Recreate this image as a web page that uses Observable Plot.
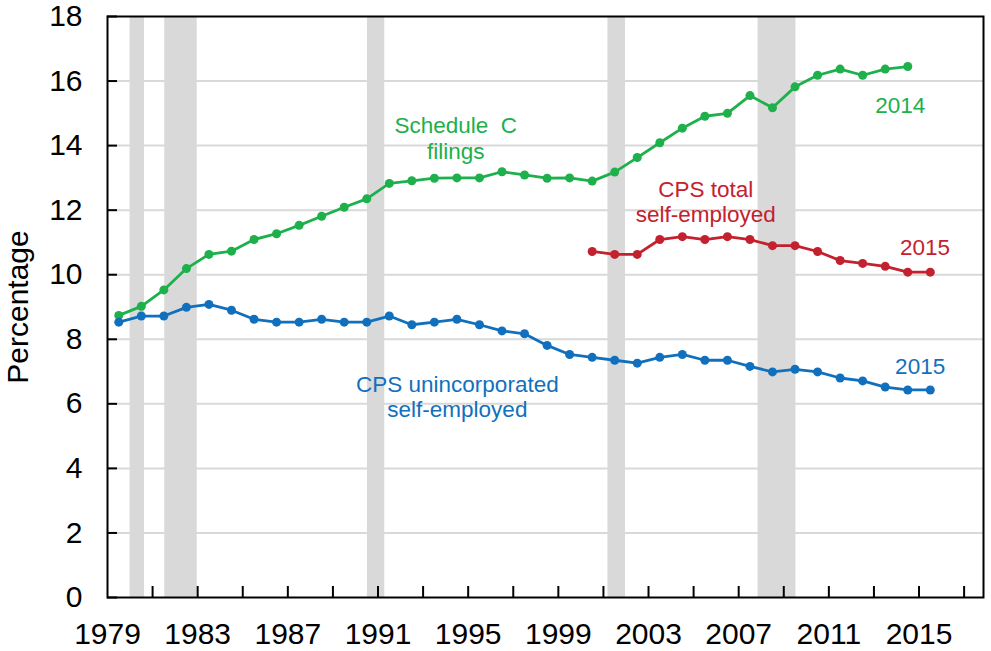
<!DOCTYPE html>
<html>
<head>
<meta charset="utf-8">
<script src="https://cdn.jsdelivr.net/npm/d3@7"></script>
<script src="https://cdn.jsdelivr.net/npm/@observablehq/plot@0.6"></script>
<style>
  html, body { margin: 0; padding: 0; background: #ffffff; }
  #chart { width: 991px; height: 651px; }
</style>
</head>
<body>
<div id="chart"></div>
<script>
// ---- Data ----
const scheduleCYears = [1979, 1980, 1981, 1982, 1983, 1984, 1985, 1986, 1987, 1988, 1989, 1990,
  1991, 1992, 1993, 1994, 1995, 1996, 1997, 1998, 1999, 2000, 2001, 2002, 2003, 2004, 2005,
  2006, 2007, 2008, 2009, 2010, 2011, 2012, 2013, 2014];
const scheduleCValues = [8.74, 9.02, 9.53, 10.19, 10.63, 10.73, 11.09, 11.27, 11.53, 11.81, 12.09, 12.35,
  12.83, 12.91, 12.99, 13.0, 13.0, 13.19, 13.09, 12.99, 13.0, 12.90, 13.18, 13.63, 14.09, 14.54, 14.91,
  15.0, 15.55, 15.17, 15.82, 16.18, 16.37, 16.18, 16.37, 16.45];

const cpsTotalYears = [2000, 2001, 2002, 2003, 2004, 2005, 2006, 2007, 2008, 2009, 2010, 2011, 2012,
  2013, 2014, 2015];
const cpsTotalValues = [10.72, 10.63, 10.63, 11.09, 11.18, 11.09, 11.18, 11.09, 10.90, 10.90, 10.72,
  10.44, 10.35, 10.26, 10.08, 10.08];

const cpsUnincYears = [1979, 1980, 1981, 1982, 1983, 1984, 1985, 1986, 1987, 1988, 1989, 1990,
  1991, 1992, 1993, 1994, 1995, 1996, 1997, 1998, 1999, 2000, 2001, 2002, 2003, 2004, 2005,
  2006, 2007, 2008, 2009, 2010, 2011, 2012, 2013, 2014, 2015];
const cpsUnincValues = [8.53, 8.72, 8.72, 8.99, 9.08, 8.90, 8.62, 8.53, 8.53, 8.62, 8.53, 8.53,
  8.72, 8.45, 8.53, 8.62, 8.45, 8.26, 8.17, 7.81, 7.53, 7.44, 7.35, 7.26, 7.44, 7.53, 7.35,
  7.35, 7.16, 6.99, 7.07, 6.99, 6.80, 6.71, 6.52, 6.43, 6.43];

// Recession periods (fractional years)
const recessionStarts = [1980.0, 1981.54, 1990.53, 2001.2, 2007.86];
const recessionEnds   = [1980.64, 1982.98, 1991.30, 2001.98, 2009.54];

// Axis ticks and labels
const xTickYears  = [1981, 1983, 1985, 1987, 1989, 1991, 1993, 1995, 1997, 1999, 2001, 2003,
  2005, 2007, 2009, 2011, 2013, 2015, 2017];
const xLabelYears = [1979, 1983, 1987, 1991, 1995, 1999, 2003, 2007, 2011, 2015];
const yTickValues = [0, 2, 4, 6, 8, 10, 12, 14, 16, 18];
const yGridValues = [2, 4, 6, 8, 10, 12, 14, 16];

// Series labels
const seriesNames  = ["Schedule\u00a0\u00a0C\nfilings", "CPS total\nself-employed", "CPS unincorporated\nself-employed"];
const endLabels    = ["2014", "2015", "2015"];

// ---- Tables built from the arrays ----
const COLORS = ["#1db04b", "#c4212e", "#1170be"];
const toRows = (ys, vs) => ys.map((year, i) => ({year, value: vs[i]}));
const series = [
  toRows(scheduleCYears, scheduleCValues),
  toRows(cpsTotalYears, cpsTotalValues),
  toRows(cpsUnincYears, cpsUnincValues)
];
const recessions = recessionStarts.map((s, i) => ({start: s, end: recessionEnds[i]}));

// annual values are plotted at mid-year (centre of each year's span)
const mid = d => d.year + 0.5;

const nameLabels = [
  {text: seriesNames[0], x: 1994.45, y: 13.60, color: COLORS[0]},
  {text: seriesNames[1], x: 2005.54, y: 11.63, color: COLORS[1]},
  {text: seriesNames[2], x: 1994.52, y: 5.58, color: COLORS[2]}
];
const yearLabels = [
  {text: endLabels[0], x: 2014.17, y: 15.02, color: COLORS[0]},
  {text: endLabels[1], x: 2015.27, y: 10.60, color: COLORS[1]},
  {text: endLabels[2], x: 2015.05, y: 6.93, color: COLORS[2]}
];

const marks = [
  Plot.ruleY(yGridValues, {stroke: "#d9d9d9", strokeWidth: 2}),
  Plot.rect(recessions, {x1: "start", x2: "end", fill: "#d9d9d9"}),
  Plot.tickX(xTickYears, {x: d => d, insetTop: 570, stroke: "#000", strokeWidth: 2}),
  Plot.tickY(yTickValues, {y: d => d, insetRight: 866, stroke: "#000", strokeWidth: 2}),
  Plot.axisX(xLabelYears, {tickSize: 0, tickPadding: 25, fontSize: 30, tickFormat: d => String(d), label: null}),
  Plot.axisY(yTickValues, {tickSize: 0, tickPadding: 25, fontSize: 30, tickFormat: d => String(d), label: null}),
  Plot.frame({stroke: "#000", strokeWidth: 2}),
  Plot.text(["Percentage"], {frameAnchor: "left", dx: -80, rotate: -90, fontSize: 30,
    lineAnchor: "bottom", textAnchor: "middle", fill: "#000"})
];
series.forEach((rows, i) => {
  marks.push(Plot.line(rows, {x: mid, y: "value", stroke: COLORS[i], strokeWidth: 2.8}));
  marks.push(Plot.dot(rows, {x: mid, y: "value", fill: COLORS[i], r: 4.5, stroke: "none"}));
});
marks.push(Plot.text(nameLabels, {x: "x", y: "y", text: "text", fill: d => d.color, fontSize: 22.5,
  lineAnchor: "bottom", lineHeight: 25.5 / 22.5, textAnchor: "middle"}));
marks.push(Plot.text(yearLabels, {x: "x", y: "y", text: "text", fill: d => d.color, fontSize: 22.5,
  lineAnchor: "bottom", textAnchor: "middle"}));

const chart = Plot.plot({
  width: 991,
  height: 651,
  marginLeft: 107,
  marginRight: 8,
  marginTop: 16,
  marginBottom: 54,
  style: {fontFamily: "'Liberation Sans', Arial, Helvetica, sans-serif", background: "#ffffff", color: "#000", overflow: "visible"},
  x: {domain: [1979, 2017.86]},
  y: {domain: [0, 18]},
  color: {type: "identity"},
  marks
});
document.getElementById("chart").appendChild(chart);
</script>
</body>
</html>
